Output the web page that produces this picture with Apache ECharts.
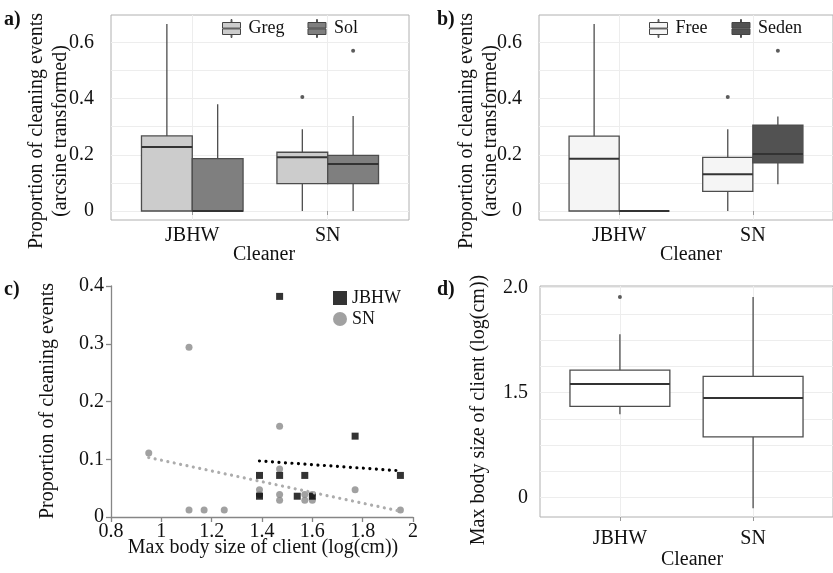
<!DOCTYPE html>
<html>
<head>
<meta charset="utf-8">
<script src="https://cdn.jsdelivr.net/npm/echarts@6/dist/echarts.min.js"></script>
<style>
  html, body { margin: 0; padding: 0; background: #fff; }
  #chart { width: 833px; height: 573px; }
</style>
</head>
<body>
<div id="chart"></div>
<script>
const cleaners = ["JBHW", "SN"];

// box stats per cleaner: [lower whisker, Q1, median, Q3, upper whisker]
// a) gregarious vs solitary clients
const gregBox = [[0, 0, 0.228, 0.267, 0.665], [0, 0.097, 0.191, 0.209, 0.291]];
const solBox = [[0, 0, 0, 0.186, 0.380], [0, 0.097, 0.167, 0.198, 0.338]];
const gregOut = [[1, 0.405]]; // [cleaner index, value]
const solOut = [[1, 0.570]];

// b) free-swimming vs sedentary clients
const freeBox = [[0, 0, 0.186, 0.266, 0.665], [0, 0.070, 0.131, 0.191, 0.291]];
const sedenBox = [[0, 0, 0, 0, 0], [0.095, 0.171, 0.203, 0.305, 0.336]];
const freeOut = [[1, 0.405]];
const sedenOut = [[1, 0.570]];

// c) proportion vs client size
const jbhwPts = [
  [1.39, 0.072], [1.39, 0.036], [1.47, 0.382], [1.47, 0.072], [1.54, 0.036],
  [1.57, 0.072], [1.60, 0.036], [1.77, 0.140], [1.95, 0.072]
];
const snPts = [
  [0.95, 0.111], [1.11, 0.294], [1.11, 0.012], [1.17, 0.012], [1.25, 0.012],
  [1.39, 0.047], [1.39, 0.039], [1.47, 0.157], [1.47, 0.083], [1.47, 0.039],
  [1.47, 0.029], [1.57, 0.039], [1.57, 0.029], [1.60, 0.039], [1.60, 0.029],
  [1.77, 0.047], [1.95, 0.012]
];
const jbhwTrend = [[1.39, 0.097], [1.95, 0.080]];
const snTrend = [[0.95, 0.103], [1.95, 0.010]];

// d) client size per cleaner
const sizeBox = [[1.397, 1.435, 1.541, 1.607, 1.778], [0.95, 1.290, 1.475, 1.578, 1.956]];
const sizeOut = [[0, 1.956]];

// tick labels
const propTicks = [0, 0.2, 0.4, 0.6];
const propGrid = [0, 0.1, 0.2, 0.3, 0.4, 0.5, 0.6];
const sizeTicks = [1, 1.5, 2];
const sizeTickLabels = ["0", "1.5", "2.0"];
const sizeGrid = [1, 1.125, 1.25, 1.375, 1.5, 1.625, 1.75, 1.875, 2];

const FONT = "'Liberation Serif', 'Times New Roman', serif";
const INK = "#111";
const STROKE = "#4d4d4d";
const GRIDLINE = "#ededed";
const DODGE = 0.1875;

const chart = echarts.init(document.getElementById("chart"));

function boxRender(shift, half) {
  return function (params, api) {
    const x = api.value(0) + shift;
    const p = (dx, v) => api.coord([x + dx, v]);
    const lo = p(0, api.value(1));
    const q1 = p(0, api.value(2));
    const q3 = p(0, api.value(4));
    const hi = p(0, api.value(5));
    const tl = p(-half, api.value(4));
    const br = p(half, api.value(2));
    const ml = p(-half, api.value(3));
    const mr = p(half, api.value(3));
    const line = { stroke: STROKE, lineWidth: 1.3 };
    return {
      type: "group",
      children: [
        { type: "line", shape: { x1: lo[0], y1: lo[1], x2: q1[0], y2: q1[1] }, style: line },
        { type: "line", shape: { x1: q3[0], y1: q3[1], x2: hi[0], y2: hi[1] }, style: line },
        {
          type: "rect",
          shape: { x: tl[0], y: tl[1], width: br[0] - tl[0], height: br[1] - tl[1] },
          style: { fill: api.visual("color"), stroke: STROKE, lineWidth: 1.3 }
        },
        { type: "line", shape: { x1: ml[0], y1: ml[1], x2: mr[0], y2: mr[1] }, style: { stroke: "#333", lineWidth: 2 } }
      ]
    };
  };
}

function boxSeries(name, stats, idx, shift, half, color) {
  return {
    name: name,
    type: "custom",
    xAxisIndex: idx,
    yAxisIndex: idx,
    itemStyle: { color: color },
    encode: { x: 0, y: [1, 2, 3, 4, 5] },
    renderItem: boxRender(shift, half),
    data: stats.map((s, i) => [i + 1].concat(s)),
    z: 3
  };
}

function outlierSeries(name, pts, idx, shift) {
  return {
    name: name,
    type: "scatter",
    xAxisIndex: idx,
    yAxisIndex: idx,
    symbolSize: 4,
    itemStyle: { color: "#333" },
    data: pts.map(([i, v]) => [i + 1 + shift, v]),
    z: 4
  };
}

function catXAxis(idx, margin) {
  return {
    type: "value",
    gridIndex: idx,
    min: 0.4,
    max: 2.6,
    axisLine: { show: false },
    axisTick: { customValues: [1, 2], length: 4, lineStyle: { color: "#999" } },
    axisLabel: {
      customValues: [1, 2],
      formatter: v => cleaners[Math.round(v) - 1],
      margin: margin,
      fontFamily: FONT, fontSize: 20, color: INK
    },
    splitLine: { show: true, lineStyle: { color: GRIDLINE } }
  };
}

function propYAxis(idx) {
  return {
    type: "value",
    gridIndex: idx,
    min: -0.032,
    max: 0.697,
    axisLine: { show: false },
    axisTick: { show: false, customValues: propGrid },
    axisLabel: { customValues: propTicks, margin: 17, fontFamily: FONT, fontSize: 20, color: INK },
    splitLine: { show: true, lineStyle: { color: GRIDLINE } }
  };
}

const KEY = "path://M0,3H18V8.6H0ZM0,9.4H18V15H0ZM8.6,0H9.4V3H8.6ZM8.6,15H9.4V18H8.6Z";
function boxLegend(names, colors, left, gap) {
  return {
    left: left, top: 19, padding: 0,
    itemWidth: 18, itemHeight: 18, itemGap: gap,
    selectedMode: false,
    textStyle: { fontFamily: FONT, fontSize: 18, color: INK, padding: [0, 0, 0, 3] },
    data: names.map((n, i) => ({
      name: n, icon: KEY,
      itemStyle: { color: colors[i], borderColor: "#444", borderWidth: 1 }
    }))
  };
}

function txt(text, x, y, opts) {
  return Object.assign({
    type: "text", x: x, y: y,
    style: {
      text: text, fontFamily: FONT, fontSize: 20, fill: INK,
      align: "center", verticalAlign: "middle"
    }
  }, opts || {});
}
const UP = { rotation: Math.PI / 2 };
const bold = (t, x, y) => ({
  type: "text", x: x, y: y,
  style: { text: t, fontFamily: FONT, fontSize: 20, fontWeight: "bold", fill: INK }
});

chart.setOption({
  animation: false,
  backgroundColor: "#fff",
  grid: [
    { left: 111, top: 15, width: 298, height: 205, show: true, borderColor: "#b0b0b0", borderWidth: 1 },
    { left: 539, top: 15, width: 301, height: 205, show: true, borderColor: "#b0b0b0", borderWidth: 1 },
    { left: 111, top: 286, width: 302, height: 231 },
    { left: 540, top: 286, width: 299, height: 231, show: true, borderColor: "#b0b0b0", borderWidth: 1 }
  ],
  xAxis: [
    catXAxis(0, 6),
    catXAxis(1, 6),
    {
      type: "value", gridIndex: 2, min: 0.8, max: 2, interval: 0.2,
      axisLine: { show: true, lineStyle: { color: "#868686", width: 1.3 } },
      axisTick: { show: true, length: 5, lineStyle: { color: "#868686", width: 1.3 } },
      axisLabel: { margin: 5, fontFamily: FONT, fontSize: 20, color: INK },
      splitLine: { show: false }
    },
    catXAxis(3, 12)
  ],
  yAxis: [
    propYAxis(0),
    propYAxis(1),
    {
      type: "value", gridIndex: 2, min: 0, max: 0.4, interval: 0.1,
      axisLine: { show: true, lineStyle: { color: "#868686", width: 1.3 } },
      axisTick: { show: true, length: 5, lineStyle: { color: "#868686", width: 1.3 } },
      axisLabel: { margin: 7, fontFamily: FONT, fontSize: 20, color: INK },
      splitLine: { show: false }
    },
    {
      type: "value", gridIndex: 3, min: 0.908, max: 2.008,
      axisLine: { show: false },
      axisTick: { show: false, customValues: sizeGrid },
      axisLabel: {
        customValues: sizeTicks,
        formatter: v => sizeTickLabels[sizeTicks.indexOf(v)],
        margin: 12, fontFamily: FONT, fontSize: 20, color: INK
      },
      splitLine: { show: true, lineStyle: { color: GRIDLINE } }
    }
  ],
  legend: [
    boxLegend(["Greg", "Sol"], ["#cccccc", "#7f7f7f"], 222, 23),
    boxLegend(["Free", "Seden"], ["#f5f5f5", "#525252"], 649, 24),
    {
      orient: "vertical", left: 333, top: 289, padding: 0,
      itemWidth: 14, itemHeight: 14, itemGap: 3,
      selectedMode: false,
      textStyle: { fontFamily: FONT, fontSize: 18, color: INK },
      data: [
        { name: "JBHW", icon: "rect" },
        { name: "SN", icon: "circle" }
      ]
    }
  ],
  series: [
    boxSeries("Greg", gregBox, 0, -DODGE, DODGE, "#cccccc"),
    boxSeries("Sol", solBox, 0, DODGE, DODGE, "#7f7f7f"),
    outlierSeries("Greg outliers", gregOut, 0, -DODGE),
    outlierSeries("Sol outliers", solOut, 0, DODGE),

    boxSeries("Free", freeBox, 1, -DODGE, DODGE, "#f5f5f5"),
    boxSeries("Seden", sedenBox, 1, DODGE, DODGE, "#525252"),
    outlierSeries("Free outliers", freeOut, 1, -DODGE),
    outlierSeries("Seden outliers", sedenOut, 1, DODGE),

    {
      name: "SN", type: "scatter", xAxisIndex: 2, yAxisIndex: 2,
      symbol: "circle", symbolSize: 7, itemStyle: { color: "#8a8a8a" }, data: snPts
    },
    {
      name: "JBHW", type: "scatter", xAxisIndex: 2, yAxisIndex: 2,
      symbol: "rect", symbolSize: 7, itemStyle: { color: "#000" }, data: jbhwPts
    },
    {
      name: "JBHW trend", type: "line", xAxisIndex: 2, yAxisIndex: 2, symbol: "none",
      lineStyle: { color: "#000", width: 3.2, type: [0.01, 6.5], cap: "round" }, data: jbhwTrend, z: 5
    },
    {
      name: "SN trend", type: "line", xAxisIndex: 2, yAxisIndex: 2, symbol: "none",
      lineStyle: { color: "#acacac", width: 3.2, type: [0.01, 6.5], cap: "round" }, data: snTrend, z: 5
    },

    boxSeries("Size", sizeBox, 3, 0, 0.375, "#ffffff"),
    outlierSeries("Size outliers", sizeOut, 3, 0)
  ],
  graphic: [
    bold("a)", 4, 10),
    bold("b)", 437, 10),
    bold("c)", 4, 280),
    bold("d)", 437, 280),
    txt("Proportion of cleaning events", 37, 131, UP),
    txt("(arcsine transformed)", 61, 131, UP),
    txt("Cleaner", 264, 255),
    txt("Proportion of cleaning events", 467, 131, UP),
    txt("(arcsine transformed)", 491, 131, UP),
    txt("Cleaner", 691, 255),
    txt("Proportion of cleaning events", 48, 401, UP),
    txt("Max body size of client (log(cm))", 263, 548),
    txt("Max body size of client (log(cm))", 479, 410, UP),
    txt("Cleaner", 692, 560)
  ]
});
</script>
</body>
</html>
